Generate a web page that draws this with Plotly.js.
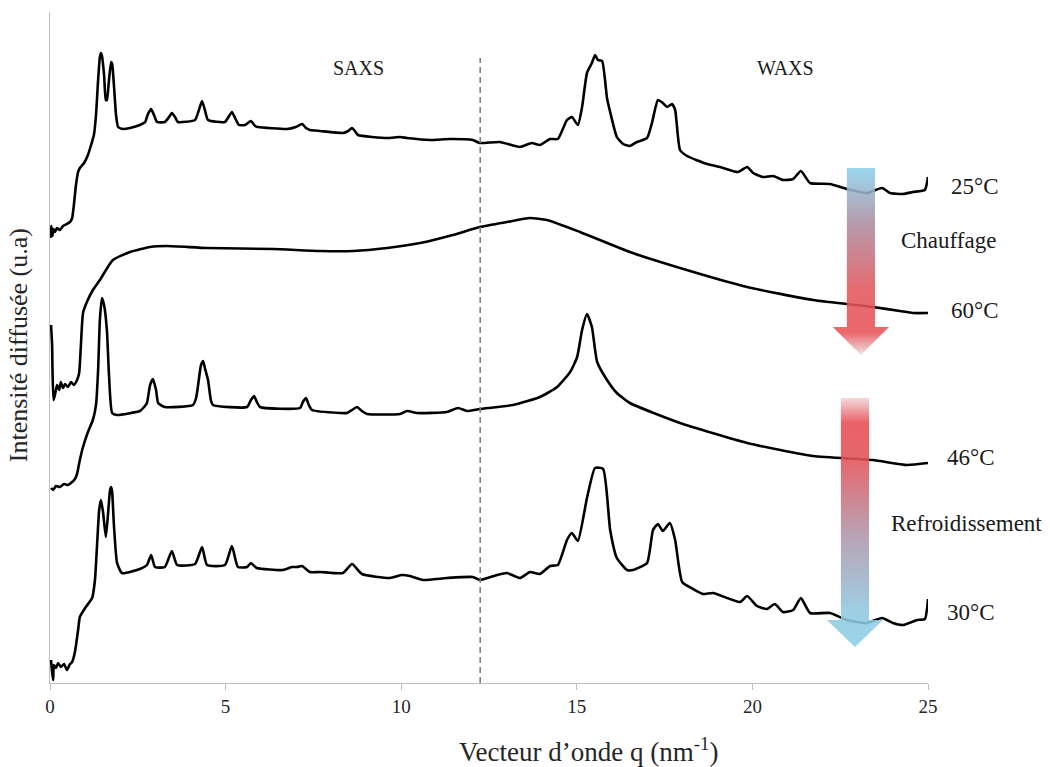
<!DOCTYPE html>
<html>
<head>
<meta charset="utf-8">
<script src="https://cdn.plot.ly/plotly-3.0.1.min.js"></script>
<style>html,body{margin:0;padding:0;background:#fff;}#chart{width:1050px;height:767px;}</style>
</head>
<body>
<div id="chart"></div>
<script>
// Scattering vector q (nm^-1) and scattered intensity (a.u., curves stacked with offsets)
const q25 = [0.01,0.04,0.07,0.10,0.14,0.20,0.28,0.37,0.48,0.57,0.63,0.68,0.74,0.80,0.85,0.97,1.08,1.17,1.25,1.31,1.37,1.42,1.45,1.48,1.54,1.59,1.62,1.68,1.74,1.77,1.82,1.88,1.94,2.08,2.28,2.56,2.71,2.79,2.88,2.96,3.05,3.27,3.39,3.47,3.56,3.64,4.13,4.24,4.33,4.41,4.50,4.98,5.10,5.18,5.27,5.38,5.55,5.72,5.84,5.92,6.75,7.00,7.18,7.29,7.40,7.69,8.34,8.49,8.60,8.68,8.77,9.60,9.97,10.17,10.82,11.39,12.04,12.24,12.81,13.38,13.72,13.95,14.24,14.46,14.72,14.86,15.03,15.15,15.29,15.43,15.52,15.60,15.72,15.86,15.95,16.14,16.32,16.51,16.71,17.00,17.14,17.31,17.45,17.57,17.71,17.80,17.94,18.14,18.71,19.08,19.59,19.85,20.02,20.30,20.59,20.87,21.16,21.38,21.64,22.21,22.69,23.26,23.69,23.92,24.29,24.57,24.91,25.00];
const i25 = [445,457,447,454,451,455,453,457,459,461,465,478,498,511,515,520,528,538,548,568,603,626,630,627,608,583,583,603,621,619,598,568,556,554,555,558,561,569,574,568,561,561,566,570,566,561,563,573,582,573,563,561,567,571,565,558,558,562,557,556,554,556,559,555,553,552,550,552,555,552,548,545,546,545,543,544,543,540,541,536,540,538,544,544,563,566,558,576,610,620,628,623,622,585,571,546,539,537,541,545,560,583,580,576,579,573,533,527,519,516,511,516,510,506,507,503,504,512,500,499,494,490,495,490,489,491,493,506];

const q60 = [0.03,0.06,0.07,0.10,0.14,0.20,0.26,0.31,0.37,0.43,0.51,0.60,0.68,0.77,0.83,0.88,0.94,1.05,1.22,1.42,1.79,2.28,2.85,3.33,4.47,6.35,7.69,8.63,9.60,10.54,11.47,12.24,13.01,13.67,14.15,15.09,16.51,17.94,19.85,21.73,23.43,24.20,24.57,25.00];
const i60 = [358,338,315,283,288,298,293,301,295,299,296,301,298,303,310,338,370,381,393,403,423,431,436,437,435,434,432,432,435,440,448,456,461,465,463,451,431,415,396,383,376,372,370,370];

const q46 = [0.03,0.09,0.17,0.28,0.40,0.51,0.63,0.71,0.77,0.85,0.94,1.08,1.22,1.31,1.37,1.42,1.48,1.54,1.62,1.68,1.77,1.91,2.56,2.68,2.76,2.85,2.93,3.02,3.08,3.27,4.07,4.16,4.21,4.30,4.36,4.41,4.50,4.58,4.64,5.61,5.72,5.81,5.89,5.98,7.12,7.20,7.29,7.37,7.46,8.26,8.46,8.60,8.74,8.88,9.03,9.97,10.17,10.45,11.30,11.62,11.87,12.24,13.18,13.95,14.44,14.81,15.01,15.15,15.29,15.43,15.58,15.86,16.14,16.51,17.94,19.85,21.73,23.43,24.40,25.00];
const i46 = [195,193,197,196,199,198,201,204,209,223,236,251,263,278,313,363,385,378,353,308,270,268,272,276,280,298,304,293,280,276,278,285,296,318,322,315,303,283,278,276,283,287,281,276,275,281,285,278,273,270,270,273,276,272,269,269,272,270,271,275,272,274,278,286,296,311,326,353,369,356,321,303,290,280,260,240,227,223,218,220];

const q30 = [0.03,0.06,0.09,0.11,0.17,0.23,0.31,0.40,0.48,0.57,0.63,0.71,0.80,0.85,1.00,1.20,1.28,1.34,1.40,1.45,1.51,1.59,1.65,1.71,1.74,1.77,1.82,1.91,2.05,2.56,2.76,2.88,2.99,3.27,3.47,3.62,4.13,4.33,4.47,4.98,5.18,5.35,5.61,5.72,5.89,6.63,6.89,7.03,7.18,7.40,7.69,8.34,8.60,8.88,9.68,10.02,10.25,10.62,11.30,12.04,12.24,12.73,13.01,13.38,13.67,13.95,14.24,14.46,14.72,14.86,15.03,15.29,15.52,15.75,15.95,16.14,16.43,16.60,17.00,17.17,17.31,17.45,17.65,17.80,18.00,18.31,18.59,18.88,19.65,19.85,20.13,20.42,20.64,20.87,21.16,21.38,21.64,22.21,22.69,23.26,23.69,24.00,24.29,24.69,24.91,25.00];
const i30 = [23,11,3,18,15,20,16,19,13,19,21,31,53,66,75,85,103,138,173,183,171,146,168,193,196,191,158,120,110,114,118,128,116,116,132,118,119,136,118,118,137,116,116,120,115,113,116,116,117,111,111,110,119,109,105,108,107,103,105,106,103,108,110,105,111,109,117,118,143,150,142,185,215,214,153,125,113,113,120,153,159,152,160,143,101,94,89,90,81,87,77,74,79,71,73,85,70,70,63,60,65,60,58,63,64,84];

const xTicks = [0,5,10,15,20,25];
const tempLabels = ["25°C","60°C","46°C","30°C"];
const processLabels = ["Chauffage","Refroidissement"];
const regionLabels = ["SAXS","WAXS"];
const qBoundary = 12.25;

const FONT = "Liberation Serif, Times New Roman, serif";

function curve(x, y) {
  return {x: x, y: y, type: "scatter", mode: "lines",
    line: {color: "#000", width: 2.6, shape: "spline", smoothing: 0.5},
    hoverinfo: "skip", showlegend: false};
}

// Decorative gradient arrows (centre q, half widths, top, neck, tip)
function arrow(cx, hs, hh, top, neck, tip, scale) {
  return {
    x: [cx-hs, cx+hs, cx+hs, cx+hh, cx, cx-hh, cx-hs, cx-hs],
    y: [top, top, neck, neck, tip, neck, neck, top],
    type: "scatter", mode: "lines", line: {width: 0},
    fill: "toself", fillcolor: "rgba(200,120,130,0.9)",
    fillgradient: {type: "vertical", start: tip, stop: top, colorscale: scale},
    opacity: 0.88, hoverinfo: "skip", showlegend: false
  };
}

const heatScale = [[0, "rgba(235,225,228,1)"], [0.12, "rgb(232,82,88)"], [0.35, "rgb(226,86,92)"], [0.7, "rgb(172,140,160)"], [1, "rgb(140,210,236)"]];
const coolScale = [[0, "rgb(140,207,230)"], [0.14, "rgb(145,200,224)"], [0.45, "rgb(175,150,170)"], [0.75, "rgb(226,82,88)"], [0.9, "rgb(230,76,82)"], [1, "rgb(242,212,216)"]];

const data = [
  curve(q25, i25), curve(q60, i60), curve(q46, i46), curve(q30, i30),
  arrow(23.09, 0.40, 0.80, 515, 356, 328, heatScale),
  arrow(22.92, 0.40, 0.80, 285, 63, 36, coolScale)
];

const ann = (x, y, t, size, xref) => ({x: x, y: y, xref: xref || "x", yref: "y", text: t, showarrow: false,
  font: {family: FONT, size: size, color: "#1a1a1a"}, xanchor: "center", yanchor: "middle"});

const layout = {
  width: 1050, height: 767,
  margin: {l: 50, r: 122, t: 12, b: 84},
  paper_bgcolor: "#fff", plot_bgcolor: "#fff",
  font: {family: FONT, color: "#262626"},
  xaxis: {range: [0, 25], tickvals: xTicks, ticks: "outside", ticklen: 6, tickcolor: "#bfbfbf",
    showline: true, linecolor: "#bfbfbf", linewidth: 1, showgrid: false, zeroline: false,
    tickfont: {family: FONT, size: 19, color: "#262626"}, fixedrange: true},
  yaxis: {range: [0, 671], showticklabels: false, ticks: "", showline: true, linecolor: "#bfbfbf",
    linewidth: 1, showgrid: false, zeroline: false, fixedrange: true},
  shapes: [{type: "line", xref: "x", yref: "y", x0: qBoundary, x1: qBoundary, y0: 0, y1: 625,
    line: {color: "#808080", width: 1.6, dash: "6px,4px"}}],
  annotations: [
    ann(8.77, 615, regionLabels[0], 20), ann(20.93, 615, regionLabels[1], 20),
    ann(1.0535, 497, tempLabels[0], 23, "paper"), ann(1.0228, 443, processLabels[0], 23, "paper"),
    ann(1.0535, 373, tempLabels[1], 23, "paper"), ann(1.049, 226, tempLabels[2], 23, "paper"),
    ann(1.0444, 160, processLabels[1], 23, "paper"), ann(1.049, 71, tempLabels[3], 23, "paper"),
    {xref: "paper", yref: "paper", x: 0.613, y: -0.10, text: "Vecteur d’onde q (nm<sup>-1</sup>)",
      showarrow: false, xanchor: "center", yanchor: "middle", font: {family: FONT, size: 27, color: "#262626"}},
    {xref: "paper", yref: "paper", x: -0.036, y: 0.504, text: "Intensité diffusée (u.a)", textangle: -90,
      showarrow: false, xanchor: "center", yanchor: "middle", font: {family: FONT, size: 26, color: "#262626"}}
  ]
};

Plotly.newPlot("chart", data, layout, {displayModeBar: false, staticPlot: true});
</script>
</body>
</html>
